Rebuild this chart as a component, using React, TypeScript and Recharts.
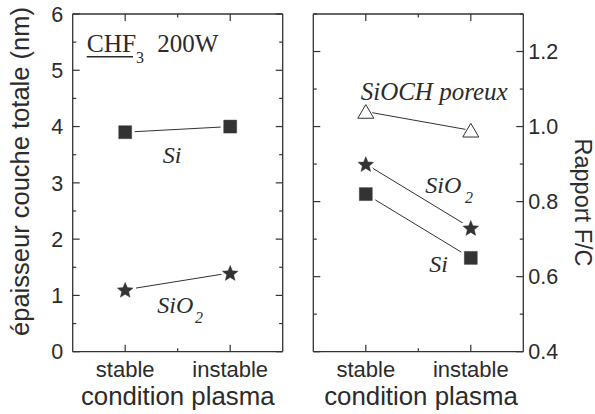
import React from 'react';
import { LineChart, Line, XAxis, YAxis } from 'recharts';

// ---------- data ----------
const categories = ['stable', 'instable'];
const categoryPositions = [1, 2];
const thicknessSi = [3.9, 4.0];
const thicknessSiO2 = [1.1, 1.4];
const ratioSiOCH = [1.04, 0.99];
const ratioSiO2 = [0.9, 0.73];
const ratioSi = [0.82, 0.65];
const xTicks = [1, 1.5, 2];
const leftTicks = [0, 0.5, 1, 1.5, 2, 2.5, 3, 3.5, 4, 4.5, 5, 5.5, 6];
const leftMajor = [0, 1, 2, 3, 4, 5, 6];
const rightTicks = [0.4, 0.5, 0.6, 0.7, 0.8, 0.9, 1.0, 1.1, 1.2, 1.3];
const rightMajor = [0.4, 0.6, 0.8, 1.0, 1.2];

const leftData = categories.map((c, i) => ({
  x: categoryPositions[i],
  cat: c,
  si: thicknessSi[i],
  sio2: thicknessSiO2[i],
}));
const rightData = categories.map((c, i) => ({
  x: categoryPositions[i],
  cat: c,
  sioch: ratioSiOCH[i],
  sio2: ratioSiO2[i],
  si: ratioSi[i],
}));

// ---------- style ----------
const INK = '#333333';
const TXT = '#2b2b2b';
const SANS = "'Liberation Sans', Arial, sans-serif";
const SERIF = "'Liberation Serif', 'Times New Roman', serif";
const MAJOR = 7;
const MINOR = 3.5;
const AXIS = { stroke: INK, strokeWidth: 1.3 };

const near = (a: number, b: number) => Math.abs(a - b) < 1e-6;
const isIn = (arr: number[], v: number) => arr.some((m) => near(m, v));

function BottomTick(props: any) {
  const { x, y, payload } = props;
  const v = payload.value;
  const idx = categoryPositions.findIndex((p) => near(p, v));
  const major = idx >= 0;
  return (
    <g>
      <line x1={x} x2={x} y1={y} y2={y - (major ? MAJOR : MINOR)} stroke={INK} strokeWidth={1.2} />
      {major && (
        <text x={x} y={y + 25} textAnchor="middle" fontFamily={SANS} fontSize={22} fill={TXT}>
          {categories[idx]}
        </text>
      )}
    </g>
  );
}

function TopTick(props: any) {
  const { x, y, payload } = props;
  const major = isIn(categoryPositions, payload.value);
  return <line x1={x} x2={x} y1={y} y2={y + (major ? MAJOR : MINOR)} stroke={INK} strokeWidth={1.2} />;
}

function makeYTick(side: 'left' | 'right', majors: number[], showLabel: boolean, fmt: (v: number) => string) {
  return function YTick(props: any) {
    const { x, y, payload } = props;
    const v = payload.value;
    const major = isIn(majors, v);
    const len = major ? MAJOR : MINOR;
    const dir = side === 'left' ? 1 : -1;
    return (
      <g>
        <line x1={x} x2={x + dir * len} y1={y} y2={y} stroke={INK} strokeWidth={1.2} />
        {showLabel && major && (
          <text
            x={side === 'left' ? x - 9.5 : x + 5}
            y={y}
            dy="0.36em"
            textAnchor={side === 'left' ? 'end' : 'start'}
            fontFamily={SANS}
            fontSize={21.5}
            fill={TXT}
          >
            {fmt(v)}
          </text>
        )}
      </g>
    );
  };
}

const LeftYLabelTick = makeYTick('left', leftMajor, true, (v) => String(v));
const LeftYRightTick = makeYTick('right', leftMajor, false, (v) => String(v));
const RightYLeftTick = makeYTick('left', rightMajor, false, (v) => v.toFixed(1));
const RightYLabelTick = makeYTick('right', rightMajor, true, (v) => v.toFixed(1));

function starPoints(cx: number, cy: number, R: number, r: number) {
  const pts: string[] = [];
  for (let i = 0; i < 10; i++) {
    const rad = i % 2 === 0 ? R : r;
    const a = -Math.PI / 2 + (i * Math.PI) / 5;
    pts.push(`${cx + rad * Math.cos(a)},${cy + rad * Math.sin(a)}`);
  }
  return pts.join(' ');
}

function Marker({ cx, cy, kind }: { cx?: number; cy?: number; kind: string }) {
  if (cx == null || cy == null) return null;
  const shape = (fill: string, stroke: string, sw: number) => {
    if (kind === 'square')
      return <rect x={cx - 6.5} y={cy - 6.5} width={13} height={13} fill={fill} stroke={stroke} strokeWidth={sw} strokeLinejoin="round" />;
    if (kind === 'star')
      return <polygon points={starPoints(cx, cy + 0.8, 8.3, 3.7)} fill={fill} stroke={stroke} strokeWidth={sw} strokeLinejoin="round" />;
    return (
      <polygon
        points={`${cx},${cy - 7} ${cx - 8},${cy + 6.7} ${cx + 8},${cy + 6.7}`}
        fill={fill}
        stroke={stroke}
        strokeWidth={sw}
        strokeLinejoin="round"
      />
    );
  };
  return (
    <g>
      {shape('#ffffff', '#ffffff', kind === 'triangle' ? 3 : 6)}
      {kind === 'triangle' ? shape('#ffffff', INK, 1) : shape(INK, INK, 0.4)}
    </g>
  );
}

const dotFor = (kind: string) => (p: any) => <Marker key={`${kind}-${p.index}`} cx={p.cx} cy={p.cy} kind={kind} />;

const W = 595;
const H = 414;

export default function App() {
  const xCommon = {
    dataKey: 'x',
    type: 'number' as const,
    domain: [0.5, 2.5],
    allowDataOverflow: true,
    ticks: xTicks,
    interval: 0 as const,
    height: 1,
    tickSize: 0,
    tickMargin: 0,
    tickLine: false,
    axisLine: AXIS,
  };
  const yCommon = {
    type: 'number' as const,
    allowDataOverflow: true,
    interval: 0 as const,
    width: 1,
    tickSize: 0,
    tickMargin: 0,
    tickLine: false,
    axisLine: AXIS,
  };
  return (
    <div style={{ position: 'absolute', left: 0, top: 0, width: W, height: H, background: '#fff' }}>
      {/* Left panel */}
      <div style={{ position: 'absolute', left: 0, top: 0 }}>
        <LineChart width={300} height={414} data={leftData} margin={{ top: 13, right: 16.3, bottom: 61.3, left: 71.7 }}>
          <XAxis xAxisId="b" {...xCommon} tick={<BottomTick />} />
          <XAxis xAxisId="t" orientation="top" {...xCommon} tick={<TopTick />} />
          <YAxis yAxisId="l" {...yCommon} domain={[0, 6]} ticks={leftTicks} tick={<LeftYLabelTick />} />
          <YAxis yAxisId="r" orientation="right" {...yCommon} domain={[0, 6]} ticks={leftTicks} tick={<LeftYRightTick />} />
          <Line xAxisId="b" yAxisId="l" dataKey="si" stroke={INK} strokeWidth={1} dot={dotFor('square')} isAnimationActive={false} />
          <Line xAxisId="b" yAxisId="l" dataKey="sio2" stroke={INK} strokeWidth={1} dot={dotFor('star')} isAnimationActive={false} />
        </LineChart>
      </div>

      {/* Right panel */}
      <div style={{ position: 'absolute', left: 300, top: 0 }}>
        <LineChart width={295} height={414} data={rightData} margin={{ top: 13, right: 70.7, bottom: 61.3, left: 12.3 }}>
          <XAxis xAxisId="b" {...xCommon} tick={<BottomTick />} />
          <XAxis xAxisId="t" orientation="top" {...xCommon} tick={<TopTick />} />
          <YAxis yAxisId="l" {...yCommon} domain={[0.4, 1.3]} ticks={rightTicks} tick={<RightYLeftTick />} />
          <YAxis yAxisId="r" orientation="right" {...yCommon} domain={[0.4, 1.3]} ticks={rightTicks} tick={<RightYLabelTick />} />
          <Line xAxisId="b" yAxisId="r" dataKey="sioch" stroke={INK} strokeWidth={1} dot={dotFor('triangle')} isAnimationActive={false} />
          <Line xAxisId="b" yAxisId="r" dataKey="sio2" stroke={INK} strokeWidth={1} dot={dotFor('star')} isAnimationActive={false} />
          <Line xAxisId="b" yAxisId="r" dataKey="si" stroke={INK} strokeWidth={1} dot={dotFor('square')} isAnimationActive={false} />
        </LineChart>
      </div>

      {/* Titles and annotations */}
      <svg width={W} height={H} style={{ position: 'absolute', left: 0, top: 0, pointerEvents: 'none' }}>
        {/* axis titles */}
        <text x={0} y={0} transform="translate(29,171.5) rotate(-90)" textAnchor="middle" fontFamily={SANS} fontSize={25.5} fill={TXT}>
          épaisseur couche totale (nm)
        </text>
        <text x={0} y={0} transform="translate(574.5,202.5) rotate(90)" textAnchor="middle" fontFamily={SANS} fontSize={23.5} fill={TXT}>
          Rapport F/C
        </text>
        <text x={177.7} y={405} textAnchor="middle" fontFamily={SANS} fontSize={25.8} fill={TXT}>
          condition plasma
        </text>
        <text x={421} y={405} textAnchor="middle" fontFamily={SANS} fontSize={25.8} fill={TXT}>
          condition plasma
        </text>

        {/* left panel annotations */}
        <text x={86.7} y={52.3} fontFamily={SERIF} fontSize={25.5} fill={TXT}>CHF</text>
        <line x1={86.7} x2={133} y1={56.7} y2={56.7} stroke={TXT} strokeWidth={1.6} />
        <text x={136} y={63} fontFamily={SERIF} fontSize={16} fill={TXT}>3</text>
        <text x={157.3} y={52.3} fontFamily={SERIF} fontSize={25} fill={TXT}>200W</text>
        <text x={162.7} y={163} fontFamily={SERIF} fontStyle="italic" fontSize={24} fill={TXT}>Si</text>
        <text x={157.3} y={313} fontFamily={SERIF} fontStyle="italic" fontSize={24} fill={TXT}>SiO</text>
        <text x={195} y={322.7} fontFamily={SERIF} fontStyle="italic" fontSize={16} fill={TXT}>2</text>

        {/* right panel annotations */}
        <text x={360.7} y={100} fontFamily={SERIF} fontStyle="italic" fontSize={25} fill={TXT}>SiOCH poreux</text>
        <text x={425.3} y={193} fontFamily={SERIF} fontStyle="italic" fontSize={24} fill={TXT}>SiO</text>
        <text x={465} y={202.7} fontFamily={SERIF} fontStyle="italic" fontSize={16} fill={TXT}>2</text>
        <text x={429.3} y={271.5} fontFamily={SERIF} fontStyle="italic" fontSize={24} fill={TXT}>Si</text>
      </svg>
    </div>
  );
}
